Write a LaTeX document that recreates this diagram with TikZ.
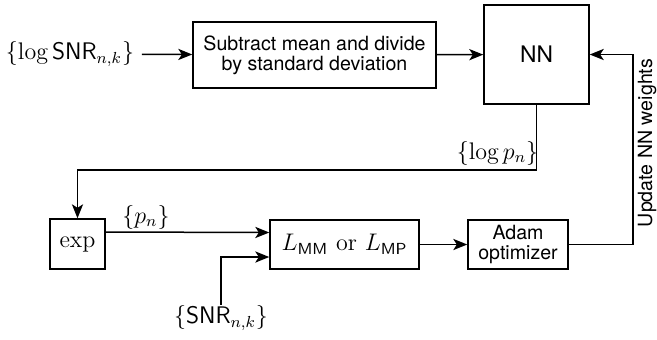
\documentclass[tikz,border=0pt]{standalone}
\usepackage{amsmath}
\usepackage{fontspec}
\newfontfamily\helv{TeX Gyre Heros}
\usetikzlibrary{arrows.meta}

\begin{document}
\begin{tikzpicture}[
  x=0.5pt, y=-0.5pt, line width=0.75pt,
  font=\fontsize{12}{14}\selectfont,
  >={Stealth[length=7pt,width=5.6pt,inset=1.8pt]},
  blk/.style={draw, inner sep=0pt, align=center},
  txt/.style={font=\helv\fontsize{9.8}{9.9}\selectfont},
  lbl/.style={inner sep=3.5pt}
]
\useasboundingbox (0,0) rectangle (657,339);
\node[lbl] (lsnr) at (70,54) {$\{\log \mathsf{SNR}_{n,k}\}$};
\node[blk, txt, minimum width=121.5pt, minimum height=33pt] (norm) at (314.5,55)
  {Subtract mean and divide\\by standard deviation};
\node[blk, font=\helv\fontsize{11.4}{13}\selectfont, minimum width=52.5pt, minimum height=49.5pt] (nn) at (536.5,54.5) {NN};
\node[blk, minimum width=27.5pt, minimum height=25pt] (ex) at (77.5,244) {$\exp$};
\node[blk, minimum width=74.5pt, minimum height=24.5pt] (loss) at (344.5,244.5)
  {$L_{\mathsf{MM}}$ or $L_{\mathsf{MP}}$};
\node[blk, txt, minimum width=50pt, minimum height=24.5pt] (adam) at (518,244.5) {Adam\\optimizer};
\node[inner sep=0pt] (snr) at (221,318) {$\{\mathsf{SNR}_{n,k}\}$};
\node (lp) at (497.5,153) {$\{\log p_n\}$};
\node (pn) at (146,217) {$\{p_n\}$};
\node[txt, rotate=90, anchor=base] (upd) at (652,143) {Update NN weights};
\coordinate (fb) at (77.5,170);
\coordinate (fbr) at (633,54.5);
% forward pass, then loss and the update back into NN
\draw[->] (lsnr) -- (norm);
\draw[->] (norm) -- (nn);
\draw[->] (nn.south) |- (fb) -- (ex.north);
\draw[->] ([yshift=6pt]ex.east) -- ([yshift=6pt]loss.west);
\draw[->] (snr.north) |- ([yshift=-6.25pt]loss.west);
\draw[->] (loss) -- (adam);
\draw[->] (adam.east) -| (fbr) -- (nn.east);
\end{tikzpicture}
\end{document}
